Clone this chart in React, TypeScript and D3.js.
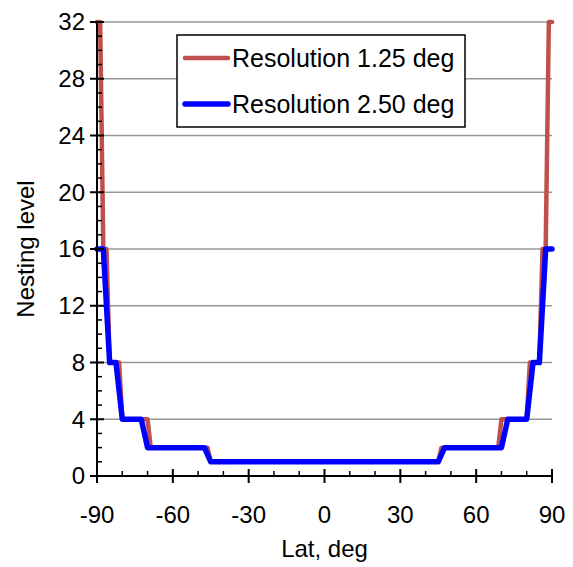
import React from "react";
import * as d3 from "d3";

// Nesting level vs latitude for two grid resolutions (breakpoints of the step profile)
const latRes125 = [-90, -88.75, -87.5, -86.25, -85, -81.25, -80, -70, -68.75, -46.25, -45, 45, 46.25, 68.75, 70, 80, 81.25, 85, 86.25, 87.5, 88.75, 90];
const nestRes125 = [32, 32, 16, 16, 8, 8, 4, 4, 2, 2, 1, 1, 2, 2, 4, 4, 8, 8, 16, 16, 32, 32];

const latRes250 = [-90, -87.5, -85, -82.5, -80, -72.5, -70, -47.5, -45, 45, 47.5, 70, 72.5, 80, 82.5, 85, 87.5, 90];
const nestRes250 = [16, 16, 8, 8, 4, 4, 2, 2, 1, 1, 2, 2, 4, 4, 8, 8, 16, 16];

const seriesNames = ["Resolution 1.25 deg", "Resolution 2.50 deg"];
const seriesColors = ["#C0504D", "#0000FF"];

const xTicks = [-90, -60, -30, 0, 30, 60, 90];
const yTicks = [0, 4, 8, 12, 16, 20, 24, 28, 32];

const W = 573;
const H = 567;
const FONT = "'Liberation Sans', Arial, sans-serif";

export default function App() {
  const x = d3.scaleLinear().domain([-90, 90]).range([97, 552]);
  const y = d3.scaleLinear().domain([0, 32]).range([476, 22]);

  const line = d3
    .line<[number, number]>()
    .x((d) => x(d[0]))
    .y((d) => y(d[1]));

  const red = line(latRes125.map((v, i) => [v, nestRes125[i]] as [number, number])) || "";
  const blue = line(latRes250.map((v, i) => [v, nestRes250[i]] as [number, number])) || "";

  const xMinor = d3.range(-90, 91, 10).filter((v) => v % 30 !== 0);
  const yMinor = d3.range(0, 33, 1).filter((v) => v % 4 !== 0);

  const x0 = x(-90);
  const y0 = y(0);

  return (
    <svg width={W} height={H} style={{ position: "absolute", left: 0, top: 0, background: "#fff" }}>
      <rect x={0} y={0} width={W} height={H} fill="#fff" />
      {/* horizontal gridlines */}
      {yTicks.filter((t) => t > 0).map((t) => (
        <line key={"g" + t} x1={x0} x2={x(90)} y1={y(t)} y2={y(t)} stroke="#989898" strokeWidth={1.5} />
      ))}

      {/* series */}
      <path d={red} fill="none" stroke={seriesColors[0]} strokeWidth={4.5} strokeLinejoin="round" strokeLinecap="round" />
      <path d={blue} fill="none" stroke={seriesColors[1]} strokeWidth={5.5} strokeLinejoin="round" strokeLinecap="round" />

      {/* y axis */}
      <line x1={x0} x2={x0} y1={y(32)} y2={y0} stroke="#000" strokeWidth={2} />
      {yTicks.map((t) => (
        <line key={"yt" + t} x1={x0 - 7} x2={x0 + 7} y1={y(t)} y2={y(t)} stroke="#000" strokeWidth={2} />
      ))}
      {yMinor.map((t) => (
        <line key={"ym" + t} x1={x0} x2={x0 + 5} y1={y(t)} y2={y(t)} stroke="#000" strokeWidth={1.5} />
      ))}
      {yTicks.map((t) => (
        <text key={"yl" + t} x={x0 - 12} y={y(t)} dy="0.35em" textAnchor="end" fontFamily={FONT} fontSize={24} fill="#000">
          {t}
        </text>
      ))}

      {/* x axis */}
      <line x1={x0} x2={x(90)} y1={y0} y2={y0} stroke="#000" strokeWidth={2} />
      {xTicks.map((t) => (
        <line key={"xt" + t} x1={x(t)} x2={x(t)} y1={y0 - 7} y2={y0 + 7} stroke="#000" strokeWidth={2} />
      ))}
      {xMinor.map((t) => (
        <line key={"xm" + t} x1={x(t)} x2={x(t)} y1={y0 - 5} y2={y0} stroke="#000" strokeWidth={1.5} />
      ))}
      {xTicks.map((t) => (
        <text key={"xl" + t} x={x(t)} y={523} textAnchor="middle" fontFamily={FONT} fontSize={24} fill="#000">
          {t}
        </text>
      ))}

      {/* axis titles */}
      <text x={x(0)} y={557} textAnchor="middle" fontFamily={FONT} fontSize={24} fill="#000">
        Lat, deg
      </text>
      <text transform={`translate(34, ${y(16)}) rotate(-90)`} textAnchor="middle" fontFamily={FONT} fontSize={24} fill="#000">
        Nesting level
      </text>

      {/* legend */}
      <rect x={177} y={35} width={288} height={92} fill="#fff" stroke="#000" strokeWidth={1.5} />
      {seriesNames.map((name, i) => {
        const ly = i === 0 ? 58 : 104;
        return (
          <g key={name}>
            <line x1={185} x2={228} y1={ly} y2={ly} stroke={seriesColors[i]} strokeWidth={i === 0 ? 4.5 : 5.5} strokeLinecap="round" />
            <text x={232} y={ly} dy="0.35em" fontFamily={FONT} fontSize={25} fill="#000">
              {name}
            </text>
          </g>
        );
      })}
    </svg>
  );
}
